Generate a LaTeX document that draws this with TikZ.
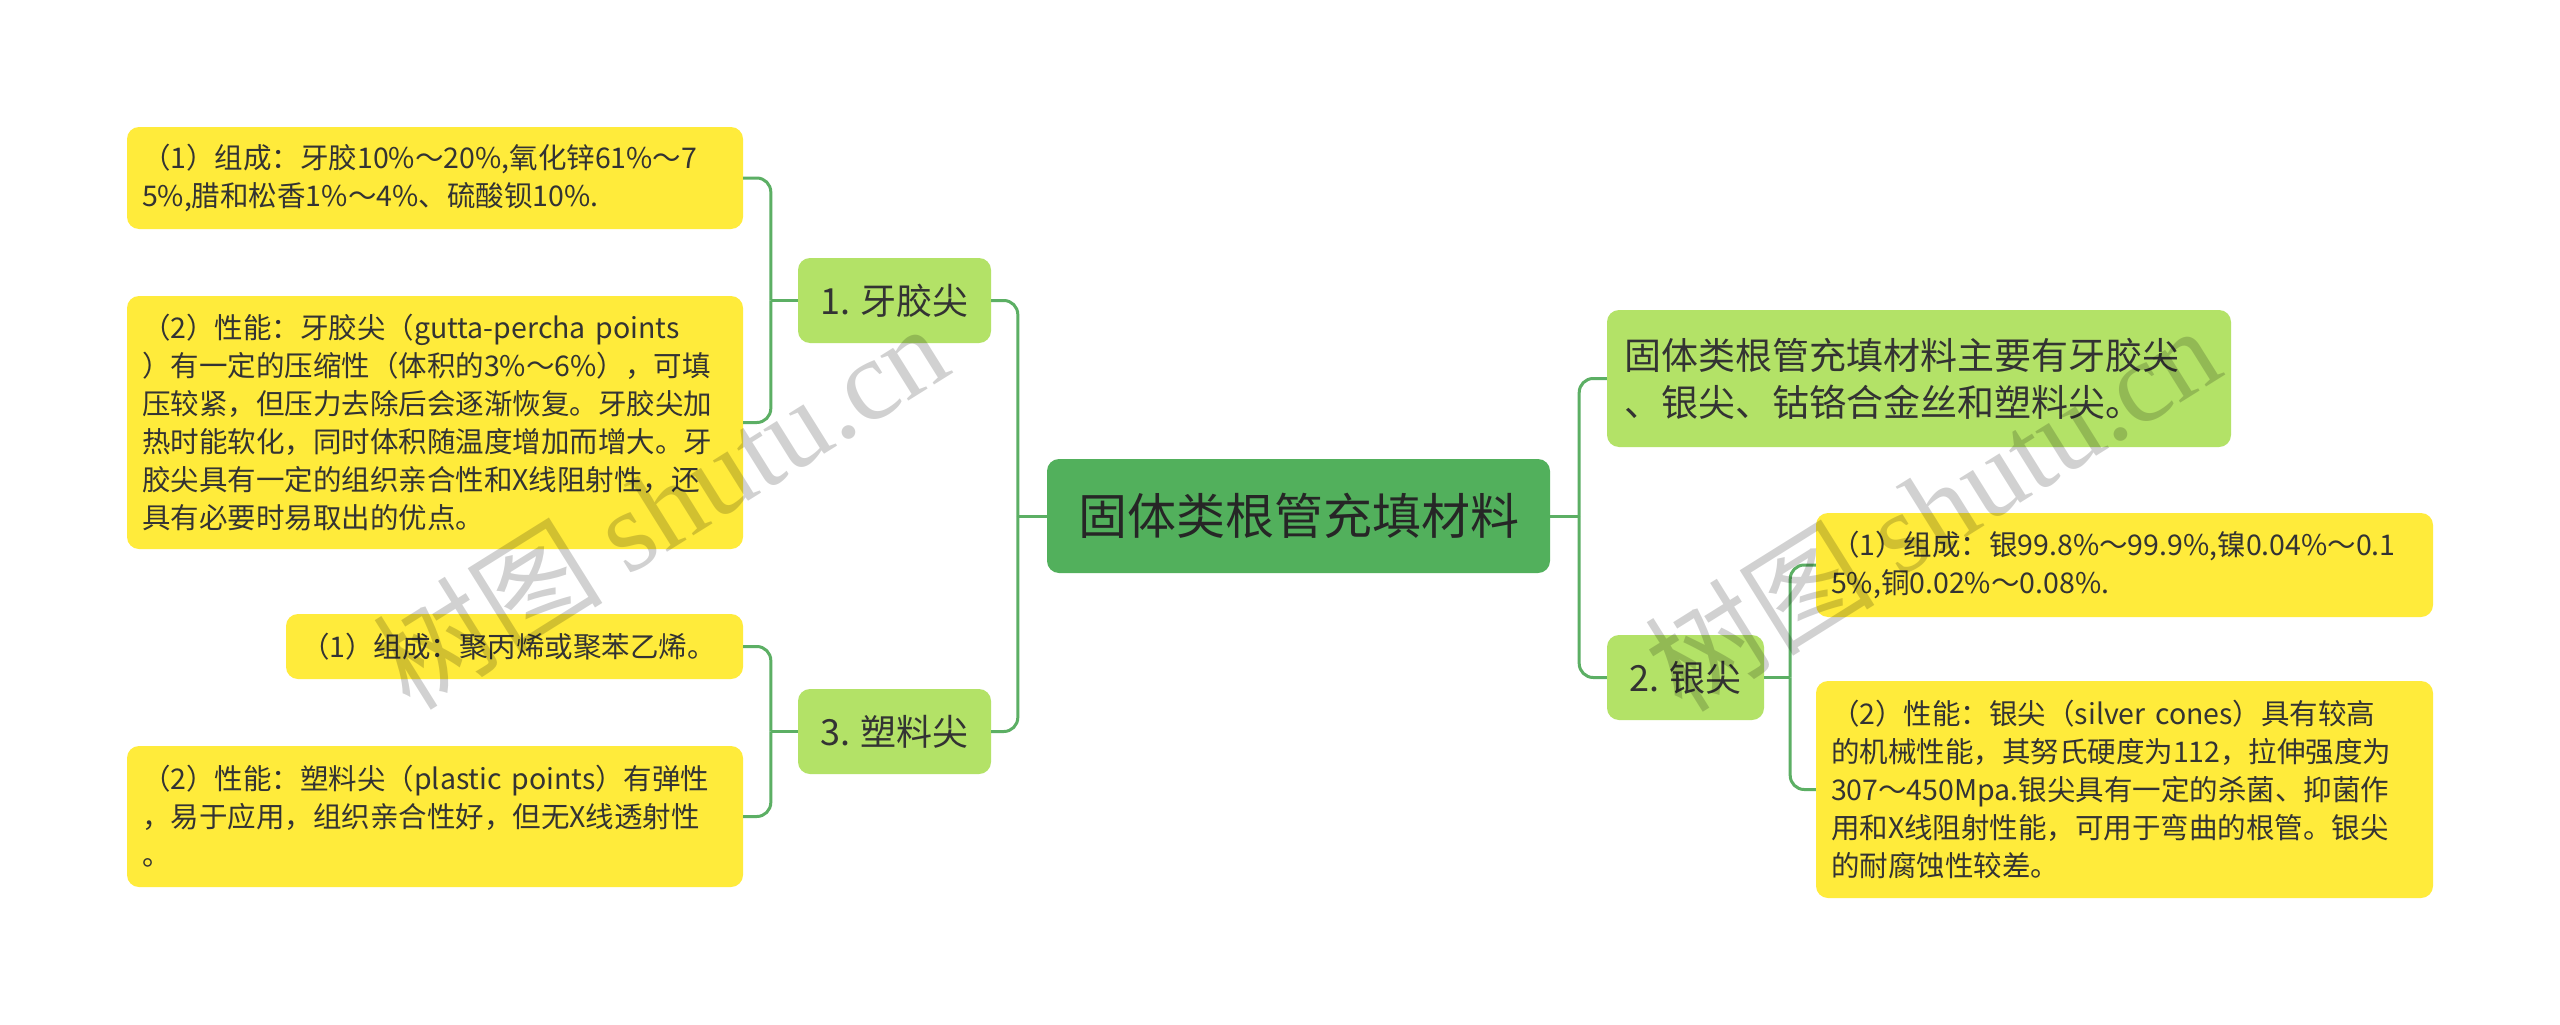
\documentclass[tikz,border=0pt]{standalone}
\usepackage{fontspec}
\setmainfont{Noto Sans CJK SC}
\newfontfamily\wmserif{Liberation Serif}
\definecolor{leafyellow}{HTML}{FFEB3B}
\definecolor{midgreen}{HTML}{B3E267}
\definecolor{rootgreen}{HTML}{52B05C}
\definecolor{linegreen}{HTML}{5CAF64}
\definecolor{txt}{HTML}{333333}
\begin{document}
\begin{tikzpicture}[x=1pt,y=-1pt,
    leaf/.style={fill=leafyellow, rounded corners=12pt, inner xsep=15pt, inner ysep=0pt, align=left, text=txt, font=\fontsize{28.5}{38}\selectfont},
    mid/.style={fill=midgreen, rounded corners=12pt, inner xsep=0pt, minimum height=85pt, text=txt, font=\fontsize{36}{47}\selectfont},
    conn/.style={draw=linegreen, line width=3pt},
    turn/.style={conn, rounded corners=14pt},
    mark wm/.style={rotate=32, text=black, opacity=0.18, font=\fontsize{115}{115}\selectfont}]
    \fill[white] (0,0) rectangle (2560,1025);
    \useasboundingbox (0,0) rectangle (2560,1025);
    \node[fill=rootgreen, rounded corners=12pt, minimum width=503pt, minimum height=114pt, text=black!85, font=\fontsize{49}{60}\selectfont] (root) at (1298.5,516) {固体类根管充填材料};
    \node[mid, minimum width=193pt] (ya) at (894.5,300.5) {1. 牙胶尖};
    \node[mid, minimum width=193pt] (su) at (894.5,731.5) {3. 塑料尖};
    \node[mid, minimum width=157pt] (yin) at (1685.5,677.5) {2. 银尖};
    \node[mid, align=left, text width=590pt, inner xsep=17pt, minimum height=137pt, font=\fontsize{37}{47}\selectfont] (zong) at (1919,378.5) {固体类根管充填材料主要有牙胶尖\\、银尖、钴铬合金丝和塑料尖。};
    \node[leaf, text width=586pt, minimum height=102pt] (ya1) at (435,178) {（1）组成：牙胶10\%～20\%,氧化锌61\%～7\\5\%,腊和松香1\%～4\%、硫酸钡10\%.};
    \node[leaf, text width=586pt, minimum height=253pt] (ya2) at (435,422.5) {（2）性能：牙胶尖（gutta-percha points\\）有一定的压缩性（体积的3\%～6\%），可填\\压较紧，但压力去除后会逐渐恢复。牙胶尖加\\热时能软化，同时体积随温度增加而增大。牙\\胶尖具有一定的组织亲合性和X线阻射性，还\\具有必要时易取出的优点。};
    \node[leaf, text width=427pt, minimum height=65pt] (su1) at (514.5,646.5) {（1）组成：聚丙烯或聚苯乙烯。};
    \node[leaf, text width=586pt, minimum height=141pt] (su2) at (435,816.5) {（2）性能：塑料尖（plastic points）有弹性\\，易于应用，组织亲合性好，但无X线透射性\\。};
    \node[leaf, text width=587pt, minimum height=104pt] (yin1) at (2124.5,565) {（1）组成：银99.8\%～99.9\%,镍0.04\%～0.1\\5\%,铜0.02\%～0.08\%.};
    \node[leaf, text width=587pt, minimum height=217pt] (yin2) at (2124.5,789.5) {（2）性能：银尖（silver cones）具有较高\\的机械性能，其努氏硬度为112，拉伸强度为\\307～450Mpa.银尖具有一定的杀菌、抑菌作\\用和X线阻射性能，可用于弯曲的根管。银尖\\的耐腐蚀性较差。};
    \draw[conn] (root.west) -- ++(-29,0) coordinate (rl);
    \draw[turn] (rl) |- (ya.east);
    \draw[turn] (rl) |- (su.east);
    \draw[conn] (root.east) -- ++(29,0) coordinate (rr);
    \draw[turn] (rr) |- (zong.west);
    \draw[turn] (rr) |- (yin.west);
    \draw[conn] (ya.west) -- ++(-27,0) coordinate (yl);
    \draw[turn] (yl) |- (ya1.east);
    \draw[turn] (yl) |- (ya2.east);
    \draw[conn] (su.west) -- ++(-27,0) coordinate (sl);
    \draw[turn] (sl) |- (su1.east);
    \draw[turn] (sl) |- (su2.east);
    \draw[conn] (yin.east) -- ++(26,0) coordinate (yr);
    \draw[turn] (yr) |- (yin1.west);
    \draw[turn] (yr) |- (yin2.west);
    \node[mark wm] (wmleft) at (660,505) {树图 {\wmserif shutu.cn}};
    \node[mark wm] (wmright) at (1932,507) {树图 {\wmserif shutu.cn}};
\end{tikzpicture}
\end{document}
